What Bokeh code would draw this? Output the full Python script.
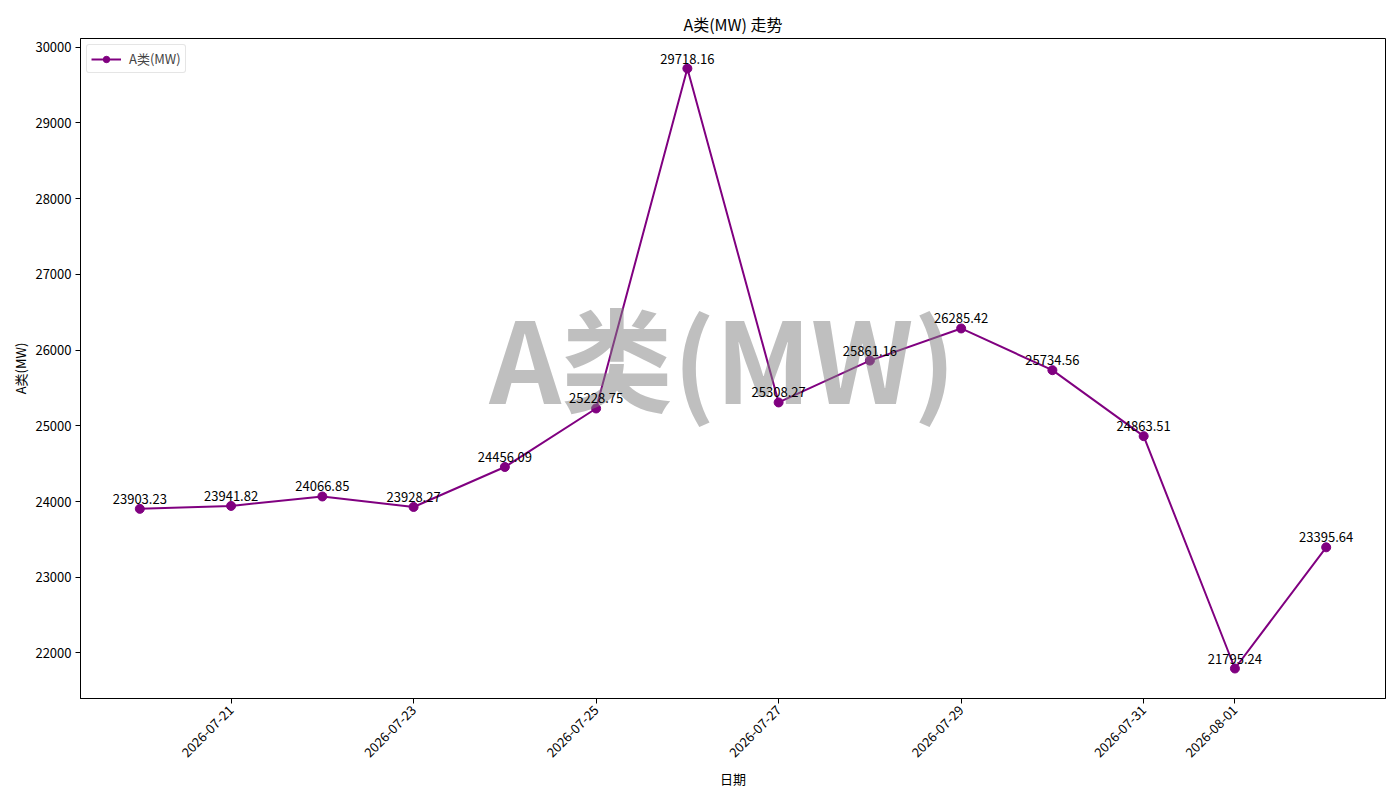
import math
from datetime import datetime
from bokeh.plotting import figure
from bokeh.models import (ColumnDataSource, FixedTicker, DatetimeTickFormatter, Label, Range1d, Legend, LegendItem)
from bokeh.core.properties import value
from bokeh.embed import file_html
from bokeh.resources import INLINE

dates = ["2026-07-20", "2026-07-21", "2026-07-22", "2026-07-23", "2026-07-24", "2026-07-25",
         "2026-07-26", "2026-07-27", "2026-07-28", "2026-07-29", "2026-07-30", "2026-07-31",
         "2026-08-01", "2026-08-02"]
values = [23903.23, 23941.82, 24066.85, 23928.27, 24456.09, 25228.75, 29718.16,
          25308.27, 25861.16, 26285.42, 25734.56, 24863.51, 21795.24, 23395.64]
tick_dates = ["2026-07-21", "2026-07-23", "2026-07-25", "2026-07-27", "2026-07-29",
              "2026-07-31", "2026-08-01"]
y_ticks = [22000, 23000, 24000, 25000, 26000, 27000, 28000, 29000, 30000]
series_name = "A类(MW)"
title_text = "A类(MW) 走势"
x_label = "日期"

FONT = "Noto Sans CJK SC"
COLOR = "#800080"

xs = [datetime.strptime(d, "%Y-%m-%d") for d in dates]
labels = ["%.2f" % v for v in values]
src = ColumnDataSource(dict(x=xs, y=values, lab=labels))

# matplotlib-like 5% margins
x0, x1 = xs[0], xs[-1]
span = x1 - x0
xr = Range1d(x0 - span * 0.05, x1 + span * 0.05)
vmin, vmax = min(values), max(values)
pad = (vmax - vmin) * 0.05
yr = Range1d(vmin - pad, vmax + pad)

p = figure(frame_width=1305, frame_height=660, x_axis_type="datetime", x_range=xr, y_range=yr,
           output_backend="svg", toolbar_location=None,
           min_border_left=80, min_border_right=15, min_border_top=38, min_border_bottom=102)

p.title.text = title_text
p.title.align = "center"
p.title.text_font = FONT
p.title.text_font_size = "16px"
p.title.text_font_style = "normal"
p.title.text_color = "black"
p.title.offset = 0
p.title.standoff = 6

p.xgrid.visible = False
p.ygrid.visible = False
p.outline_line_color = "black"
p.outline_line_width = 1
p.background_fill_color = "white"
p.border_fill_color = "white"

line_r = p.line("x", "y", source=src, line_color=COLOR, line_width=2)
pts_r = p.scatter("x", "y", source=src, size=9, fill_color=COLOR, line_color=COLOR)

txt = p.text("x", "y", text="lab", source=src, text_align="center", text_baseline="bottom",
             y_offset=-5, text_font=value(FONT), text_font_size="13px", text_color="black")
txt.level = "overlay"

wm = Label(x=642, y=344, x_units="screen", y_units="screen", text=series_name,
           text_align="center", text_baseline="middle", text_font=FONT,
           text_font_size="112px", text_font_style="bold", text_color="gray", text_alpha=0.5)
wm.level = "annotation"
p.add_layout(wm)

legend = Legend(items=[LegendItem(label=series_name, renderers=[line_r, pts_r])],
                location="top_left")
legend.label_text_font = FONT
legend.label_text_font_size = "13px"
legend.border_line_color = "#cccccc"
legend.border_line_width = 1
legend.border_radius = 3
legend.margin = 6
legend.padding = 4
legend.glyph_width = 30
legend.glyph_height = 16
legend.label_standoff = 8
legend.background_fill_alpha = 0.8
p.add_layout(legend)

tick_dt = [datetime.strptime(t, "%Y-%m-%d") for t in tick_dates]
ms = [(d - datetime(1970, 1, 1)).total_seconds() * 1000 for d in tick_dt]
p.xaxis.ticker = FixedTicker(ticks=ms)
fmt = "%Y-%m-%d"
p.xaxis.formatter = DatetimeTickFormatter(milliseconds=fmt, seconds=fmt, minsec=fmt, minutes=fmt,
                                          hourmin=fmt, hours=fmt, days=fmt, months=fmt, years=fmt)
p.xaxis.major_label_orientation = math.pi / 4
p.yaxis.ticker = FixedTicker(ticks=y_ticks)

for ax in (p.xaxis, p.yaxis):
    ax.major_tick_out = 5
    ax.major_tick_in = 0
    ax.minor_tick_out = 0
    ax.minor_tick_in = 0
    ax.axis_line_color = "black"
    ax.major_tick_line_color = "black"
    ax.major_label_text_font = FONT
    ax.major_label_text_font_size = "13px"
    ax.major_label_text_color = "black"
    ax.axis_label_text_font = FONT
    ax.axis_label_text_font_size = "13px"
    ax.axis_label_text_font_style = "normal"
    ax.axis_label_text_color = "black"

p.xaxis.axis_label = x_label
p.yaxis.axis_label = series_name
p.yaxis.major_label_standoff = 4
p.yaxis.axis_label_standoff = 2
p.xaxis.major_label_standoff = 4
p.xaxis.axis_label_standoff = 4

open("out.html", "w").write(file_html(p, INLINE))
